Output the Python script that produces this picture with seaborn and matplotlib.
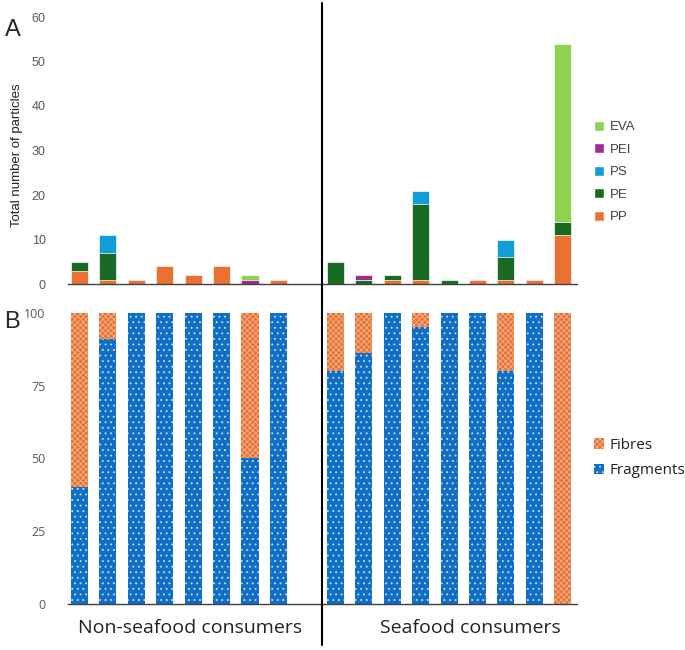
import numpy as np
import pandas as pd
import matplotlib
matplotlib.use("Agg")
import matplotlib.pyplot as plt
import seaborn as sns
from matplotlib.patches import Patch
from matplotlib.lines import Line2D

sns.set_style("white")
plt.rcParams["font.family"] = ["Liberation Sans", "DejaVu Sans"]
plt.rcParams["hatch.linewidth"] = 0.6

# slots 1-8 non-seafood, slot 9 empty, slots 10-18 seafood
slots = [str(i) for i in range(1, 19)]
used = [s for s in slots if s != "9"]

# panel A, particle counts per polymer (bottom to top)
PP = [3, 1, 1, 4, 2, 4, 0, 1, 0, 0, 1, 1, 0, 1, 1, 1, 11]
PE = [2, 6, 0, 0, 0, 0, 0, 0, 5, 1, 1, 17, 1, 0, 5, 0, 3]
PS = [0, 4, 0, 0, 0, 0, 0, 0, 0, 0, 0, 3, 0, 0, 4, 0, 0]
PEI = [0, 0, 0, 0, 0, 0, 1, 0, 0, 1, 0, 0, 0, 0, 0, 0, 0]
EVA = [0, 0, 0, 0, 0, 0, 1, 0, 0, 0, 0, 0, 0, 0, 0, 0, 40]

# panel B, % fragments (rest are fibres)
fragments = [40, 91, 100, 100, 100, 100, 50, 100, 80, 86, 100, 95, 100, 100, 80, 100, 0]

polymers = ["PP", "PE", "PS", "PEI", "EVA"]
poly_colors = {"PP": "#E97132", "PE": "#196B24", "PS": "#0F9ED5",
               "PEI": "#A02B93", "EVA": "#92D050"}

dfA = pd.DataFrame({"slot": used, "PP": PP, "PE": PE, "PS": PS, "PEI": PEI, "EVA": EVA})
cum = dfA[polymers].cumsum(axis=1)

dfB = pd.DataFrame({"slot": used, "Fragments": fragments})
dfB["Total"] = 100

fig = plt.figure(figsize=(6.85, 6.5), dpi=100)
axA = fig.add_axes([68 / 685, 1 - 284 / 650, (577 - 68) / 685, (284 - 17) / 650])
axB = fig.add_axes([68 / 685, 1 - 604 / 650, (577 - 68) / 685, (604 - 312.7) / 650])

# stacked bars: draw cumulative totals from top layer down
for p in polymers[::-1]:
    sns.barplot(x=dfA["slot"], y=cum[p], order=slots, color=poly_colors[p],
                width=0.6, edgecolor="white", linewidth=0.5, ax=axA, saturation=1)

sns.barplot(data=dfB, x="slot", y="Total", order=slots, color="#E97132",
            width=0.6, hatch="xxxxxx", edgecolor="#F4B48E", linewidth=0, ax=axB, saturation=1)
sns.barplot(data=dfB, x="slot", y="Fragments", order=slots, color="#0F6FC6",
            width=0.6, hatch="...", edgecolor="#CFE0F5", linewidth=0, ax=axB, saturation=1)

for ax in (axA, axB):
    ax.set_xlim(-0.4, 17.5)
    ax.set_xlabel("")
    ax.set_xticks([])
    for s in ["left", "right", "top"]:
        ax.spines[s].set_visible(False)
    ax.spines["bottom"].set_color("#404040")
    ax.spines["bottom"].set_linewidth(1.0)
    ax.tick_params(axis="y", length=0, colors="#595959", labelsize=9, pad=16)

axA.set_ylim(0, 60)
axA.set_yticks(range(0, 61, 10))
axA.set_ylabel("")
fig.text(17 / 685, 1 - 155 / 650, "Total number of particles", fontsize=9.5,
         color="#222222", rotation=90, ha="center", va="center")

axB.set_ylim(0, 100)
axB.set_yticks([0, 25, 50, 75, 100])
axB.set_ylabel("")
for t in axB.get_yticklabels():
    t.set_fontfamily(["Open Sans", "DejaVu Sans"])

# legends
hA = [Patch(facecolor=poly_colors[p], label=p) for p in polymers[::-1]]
axA.legend(handles=hA, loc="center left", bbox_to_anchor=(582 / 685, 1 - 172 / 650),
           bbox_transform=fig.transFigure, frameon=False, fontsize=9.5,
           handlelength=0.8, handleheight=0.8, handletextpad=0.4, labelspacing=0.75,
           labelcolor="#404040")

hB = [Patch(facecolor="#E97132", hatch="xxxxxx", edgecolor="#F4B48E", linewidth=0, label="Fibres"),
      Patch(facecolor="#0F6FC6", hatch="...", edgecolor="#CFE0F5", linewidth=0, label="Fragments")]
legB = axB.legend(handles=hB, loc="center left", bbox_to_anchor=(580 / 685, 1 - 458 / 650),
                  bbox_transform=fig.transFigure, frameon=False,
                  handlelength=0.7, handleheight=0.7, handletextpad=0.3, labelspacing=0.7,
                  prop={"family": ["Open Sans", "DejaVu Sans"], "size": 11})
for t in legB.get_texts():
    t.set_color("#222222")

# divider and labels
fig.add_artist(Line2D([322 / 685, 322 / 685], [1 - 645 / 650, 1 - 3 / 650],
                      color="black", linewidth=1.5, transform=fig.transFigure))
fig.text(5 / 685, 1 - 30 / 650, "A", fontsize=17, va="center", ha="left")
fig.text(4 / 685, 1 - 322 / 650, "B", fontsize=17, va="center", ha="left")
fig.text(190 / 685, 1 - 628 / 650, "Non-seafood consumers", fontsize=14,
         ha="center", va="center", color="#222222", family=["Open Sans", "DejaVu Sans"])
fig.text(470 / 685, 1 - 628 / 650, "Seafood consumers", fontsize=14,
         ha="center", va="center", color="#222222", family=["Open Sans", "DejaVu Sans"])

fig.savefig("out.png", dpi=100)
